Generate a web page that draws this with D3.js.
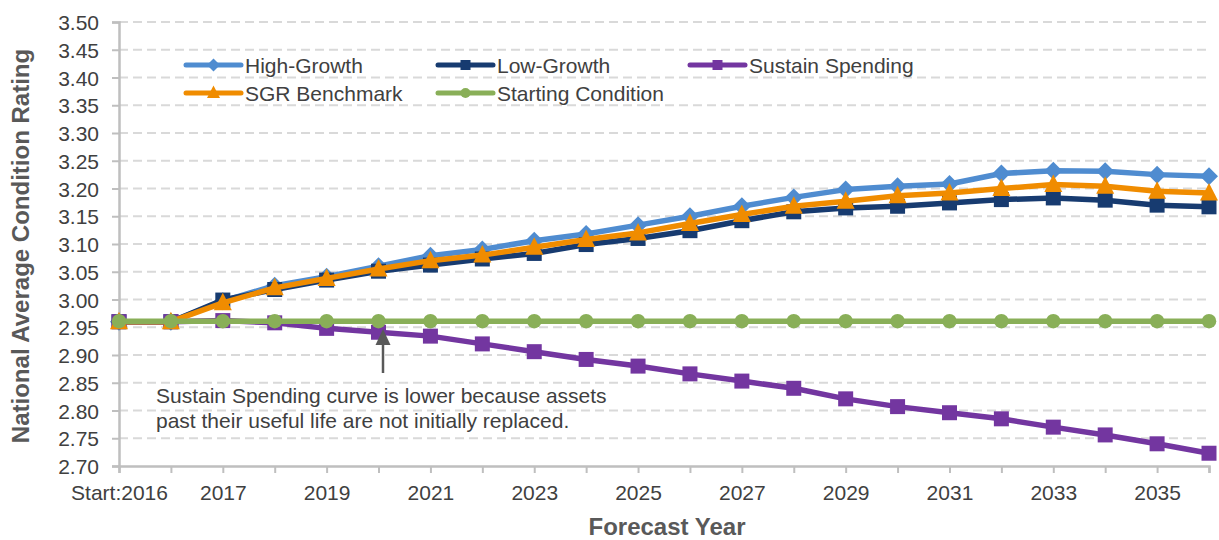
<!DOCTYPE html>
<html>
<head>
<meta charset="utf-8">
<script src="https://cdn.jsdelivr.net/npm/d3@7/dist/d3.min.js"></script>
<style>
  html, body { margin: 0; padding: 0; background: #fff; }
  svg { display: block; font-family: "Liberation Sans", Arial, sans-serif; }
</style>
</head>
<body>
<svg id="chart" width="1219" height="540"></svg>
<script>
const categories = ["Start:2016","2016","2017","2018","2019","2020","2021","2022","2023","2024","2025","2026","2027","2028","2029","2030","2031","2032","2033","2034","2035","2036"];
const highGrowth = [2.96,2.96,2.997,3.025,3.041,3.060,3.079,3.090,3.106,3.118,3.134,3.150,3.168,3.184,3.198,3.204,3.208,3.227,3.232,3.231,3.225,3.222];
const lowGrowth = [2.96,2.96,2.999,3.018,3.035,3.051,3.062,3.073,3.083,3.099,3.110,3.124,3.142,3.158,3.165,3.168,3.174,3.180,3.183,3.179,3.170,3.167];
const sustainSpending = [2.96,2.96,2.962,2.958,2.948,2.941,2.934,2.920,2.906,2.892,2.880,2.866,2.853,2.840,2.821,2.807,2.796,2.785,2.770,2.756,2.740,2.723];
const sgrBenchmark = [2.96,2.96,2.994,3.021,3.038,3.055,3.070,3.080,3.094,3.108,3.120,3.137,3.153,3.168,3.177,3.187,3.192,3.200,3.207,3.204,3.195,3.192];
const startingCondition = [2.961,2.961,2.961,2.961,2.961,2.961,2.961,2.961,2.961,2.961,2.961,2.961,2.961,2.961,2.961,2.961,2.961,2.961,2.961,2.961,2.961,2.961];
const yTicks = [2.70,2.75,2.80,2.85,2.90,2.95,3.00,3.05,3.10,3.15,3.20,3.25,3.30,3.35,3.40,3.45,3.50];
const seriesNames = ["High-Growth","Low-Growth","Sustain Spending","SGR Benchmark","Starting Condition"];
const annotationLines = ["Sustain Spending curve is lower because assets","past their useful life are not initially replaced."];

const series = [
  {name: seriesNames[0], values: highGrowth, color: "#4F8CD0", marker: "diamond"},
  {name: seriesNames[1], values: lowGrowth, color: "#173B70", marker: "square"},
  {name: seriesNames[2], values: sustainSpending, color: "#7336A0", marker: "square"},
  {name: seriesNames[3], values: sgrBenchmark, color: "#F08C00", marker: "triangle"},
  {name: seriesNames[4], values: startingCondition, color: "#89AF58", marker: "circle"}
];

const svg = d3.select("#chart");
const plotL = 119, plotR = 1209, plotT = 22, plotB = 466;
const x = d3.scalePoint().domain(categories).range([plotL, plotR]);
const y = d3.scaleLinear().domain([2.70, 3.50]).range([plotB, plotT]);

// gridlines
svg.append("g").selectAll("line").data(yTicks.slice(1)).join("line")
  .attr("x1", plotL).attr("x2", plotR)
  .attr("y1", d => y(d)).attr("y2", d => y(d))
  .attr("stroke", "#D9D9D9").attr("stroke-width", 2).attr("stroke-dasharray", "9,5");

// y axis
const yAxis = d3.axisLeft(y).tickValues(yTicks).tickFormat(d3.format(".2f")).tickSize(7).tickPadding(13);
const gy = svg.append("g").attr("transform", `translate(${plotL},0)`).call(yAxis);
gy.select(".domain").attr("stroke", "#BFBFBF").attr("stroke-width", 2.5);
gy.selectAll(".tick line").attr("stroke", "#BFBFBF").attr("stroke-width", 2);
gy.selectAll(".tick text").attr("fill", "#404040").style("font-size", "21px").attr("dy", "0.36em");

// x axis
const xAxis = d3.axisBottom(x).tickSize(7).tickPadding(12)
  .tickFormat((d, i) => i % 2 === 0 ? d : "");
const gx = svg.append("g").attr("transform", `translate(0,${plotB})`).call(xAxis);
gx.select(".domain").attr("stroke", "#BFBFBF").attr("stroke-width", 2.5);
gx.selectAll(".tick line").attr("stroke", "#BFBFBF").attr("stroke-width", 2);
gx.selectAll(".tick text").attr("fill", "#404040").style("font-size", "21px");

// axis titles
svg.append("text").attr("x", 667).attr("y", 535).attr("text-anchor", "middle")
  .attr("fill", "#595959").style("font-size", "24px").style("font-weight", "bold").text("Forecast Year");
svg.append("text").attr("transform", "translate(29,246) rotate(-90)").attr("text-anchor", "middle")
  .attr("fill", "#595959").style("font-size", "24px").style("font-weight", "bold").text("National Average Condition Rating");

function markerPath(type, s) {
  const h = s / 2;
  if (type === "diamond") return `M0,${-h-1.5}L${h+1.5},0L0,${h+1.5}L${-h-1.5},0Z`;
  if (type === "square") return `M${-h},${-h}H${h}V${h}H${-h}Z`;
  if (type === "triangle") return `M0,${-h-2.5}L${h+1.5},${h}L${-h-1.5},${h}Z`;
  return d3.symbol(d3.symbolCircle, Math.PI * h * h)();
}

const line = d3.line().x((d, i) => x(categories[i])).y(d => y(d));
series.forEach(s => {
  const g = svg.append("g");
  g.append("path").datum(s.values).attr("d", line)
    .attr("fill", "none").attr("stroke", s.color).attr("stroke-width", 5.5).attr("stroke-linejoin", "round");
  g.selectAll("path.m").data(s.values).join("path").attr("class", "m")
    .attr("transform", (d, i) => `translate(${x(categories[i])},${y(d)})`)
    .attr("d", markerPath(s.marker, s.marker === "circle" ? 14.5 : 15))
    .attr("fill", s.color);
});

// legend
const legendPos = [[186,65],[438,65],[690,65],[186,93],[438,93]];
series.forEach((s, i) => {
  const [lx, ly] = legendPos[i];
  const g = svg.append("g").attr("transform", `translate(${lx},${ly})`);
  g.append("line").attr("x1", 0).attr("x2", 55).attr("y1", 0).attr("y2", 0)
    .attr("stroke", s.color).attr("stroke-width", 5).attr("stroke-linecap", "round");
  g.append("path").attr("transform", "translate(27.5,0)").attr("d", markerPath(s.marker, 10)).attr("fill", s.color);
  g.append("text").attr("x", 59).attr("y", 0).attr("dy", "0.36em")
    .attr("fill", "#404040").style("font-size", "21px").text(s.name);
});

// annotation
const ann = svg.append("text").attr("x", 156).attr("y", 403).attr("fill", "#404040").style("font-size", "21px");
annotationLines.forEach((t, i) => ann.append("tspan").attr("x", 156).attr("dy", i === 0 ? 0 : 25).text(t));
svg.append("line").attr("x1", 383).attr("x2", 383).attr("y1", 373).attr("y2", 342)
  .attr("stroke", "#595959").attr("stroke-width", 2.5);
svg.append("path").attr("d", "M383,329L390.5,345L375.5,345Z").attr("fill", "#595959");
</script>
</body>
</html>
